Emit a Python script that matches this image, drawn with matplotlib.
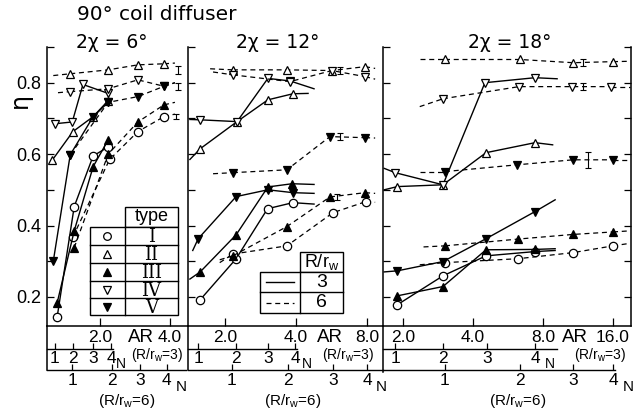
import matplotlib
matplotlib.use("Agg")
import matplotlib.pyplot as plt
from matplotlib.patches import Rectangle
from matplotlib.ticker import FixedLocator, FixedFormatter, NullLocator

plt.rcParams['font.family'] = ['Liberation Sans', 'DejaVu Sans']
plt.rcParams['mathtext.fontset'] = 'dejavusans'

W, H = 633, 411

types = ['I', 'II', 'III', 'IV', 'V']
mk = {'I': ('o', 'white'), 'II': ('^', 'white'), 'III': ('^', 'black'),
      'IV': ('v', 'white'), 'V': ('v', 'black')}

# ---- data: (AR, eta) ----
# 2chi = 6 deg
chi6_solid = {   # R/rw = 3
    'I':   ([1.31, 1.55, 1.87, 2.17], [0.145, 0.453, 0.595, 0.620]),
    'II':  ([1.25, 1.53, 1.87, 2.17], [0.584, 0.663, 0.705, 0.750]),
    'III': ([1.31, 1.55, 1.87, 2.17], [0.184, 0.385, 0.565, 0.640]),
    'IV':  ([1.28, 1.52, 1.69, 2.17], [0.685, 0.690, 0.795, 0.770]),
    'V':   ([1.26, 1.49, 1.87, 2.17], [0.300, 0.598, 0.705, 0.745]),
}
chi6_dashed = {  # R/rw = 6
    'I':   ([1.53, 2.20, 2.91, 3.77], [0.368, 0.585, 0.663, 0.705]),
    'II':  ([1.49, 2.17, 2.91, 3.77], [0.825, 0.836, 0.850, 0.853]),
    'III': ([1.55, 2.17, 2.91, 3.77], [0.338, 0.600, 0.690, 0.738]),
    'IV':  ([1.49, 2.17, 2.91, 3.77], [0.775, 0.783, 0.808, 0.790]),
    'V':   ([1.49, 2.17, 2.91, 3.77], [0.598, 0.745, 0.761, 0.790]),
}
# 2chi = 12 deg
chi12_solid = {
    'I':   ([1.57, 2.23, 3.03, 3.88], [0.192, 0.307, 0.447, 0.464]),
    'II':  ([1.57, 2.25, 3.04, 3.88], [0.615, 0.691, 0.752, 0.769]),
    'III': ([1.57, 2.23, 3.04, 3.85], [0.270, 0.374, 0.508, 0.517]),
    'IV':  ([1.57, 2.25, 3.04, 3.77], [0.696, 0.691, 0.812, 0.805]),
    'V':   ([1.54, 2.23, 3.04, 3.88], [0.363, 0.481, 0.500, 0.492]),
}
chi12_dashed = {
    'I':   ([2.16, 3.66, 5.74, 7.92], [0.320, 0.343, 0.436, 0.467]),
    'II':  ([2.16, 3.66, 5.68, 7.85], [0.836, 0.836, 0.834, 0.845]),
    'III': ([2.16, 3.66, 5.57, 7.85], [0.315, 0.397, 0.480, 0.492]),
    'IV':  ([2.16, 3.77, 5.68, 7.85], [0.822, 0.803, 0.834, 0.817]),
    'V':   ([2.16, 3.66, 5.57, 7.85], [0.548, 0.556, 0.649, 0.646]),
}
# 2chi = 18 deg
chi18_solid = {
    'I':   ([1.89, 2.97, 4.55, 7.39], [0.178, 0.259, 0.315, 0.327]),
    'II':  ([1.89, 2.97, 4.55, 7.39], [0.509, 0.514, 0.604, 0.632]),
    'III': ([1.89, 2.97, 4.55, 7.39], [0.203, 0.229, 0.332, 0.333]),
    'IV':  ([1.85, 2.97, 4.50, 7.39], [0.548, 0.514, 0.800, 0.814]),
    'V':   ([1.89, 2.97, 4.55, 7.39], [0.273, 0.299, 0.363, 0.439]),
}
chi18_dashed = {
    'I':   ([3.03, 6.25, 10.77, 16.0], [0.296, 0.307, 0.324, 0.343]),
    'II':  ([3.03, 6.37, 10.77, 16.0], [0.865, 0.865, 0.856, 0.859]),
    'III': ([3.03, 6.25, 10.77, 16.0], [0.343, 0.362, 0.375, 0.382]),
    'IV':  ([2.97, 6.31, 10.66, 15.68], [0.755, 0.789, 0.789, 0.789]),
    'V':   ([3.03, 6.19, 10.77, 16.0], [0.551, 0.570, 0.584, 0.584]),
}
# where the drawn curves run on past the measured points: (lead, tail) as (AR, eta)
chi6_dashed_ends = {
    'I':   (None, (4.20, 0.712)),
    'II':  ((1.26, 0.820), (4.20, 0.855)),
    'III': (None, (4.20, 0.745)),
    'IV':  ((1.32, 0.772), (4.20, 0.800)),
    'V':   (None, (4.20, 0.800)),
}
chi12_solid_ends = {
    'I':   (None, (4.77, 0.460)),
    'II':  ((1.42, 0.585), (4.50, 0.770)),
    'III': ((1.42, 0.250), (4.77, 0.515)),
    'IV':  ((1.42, 0.697), (4.77, 0.783)),
    'V':   ((1.46, 0.330), (4.77, 0.490)),
}
chi12_dashed_ends = {
    'I':   ((1.90, 0.296), (8.66, 0.465)),
    'II':  ((1.73, 0.839), (8.66, 0.840)),
    'III': ((1.90, 0.304), (8.66, 0.490)),
    'IV':  ((1.78, 0.830), (8.66, 0.810)),
    'V':   ((1.78, 0.545), (8.66, 0.645)),
}
chi18_solid_ends = {
    'I':   (None, (9.02, 0.330)),
    'II':  ((1.66, 0.500), (8.80, 0.626)),
    'III': (None, (9.02, 0.335)),
    'IV':  ((1.66, 0.560), (9.20, 0.811)),
    'V':   ((1.66, 0.270), (9.02, 0.472)),
}
chi18_dashed_ends = {
    'I':   ((2.36, 0.290), (18.9, 0.350)),
    'II':  ((2.36, 0.865), (18.9, 0.860)),
    'III': ((2.45, 0.340), (18.9, 0.385)),
    'IV':  ((2.36, 0.733), (18.9, 0.789)),
    'V':   ((2.36, 0.551), (18.9, 0.584)),
}
# scatter bars next to the last dashed points: AR, eta, half height
err6 = ([4.33, 4.33, 4.25], [0.835, 0.790, 0.705], [0.012, 0.010, 0.008])
err12 = ([6.14, 6.14, 5.96], [0.834, 0.649, 0.480], [0.010, 0.010, 0.008])
err18 = ([11.9, 11.9, 12.5], [0.856, 0.789, 0.584], [0.010, 0.010, 0.022])

titles = ['2χ = 6°', '2χ = 12°', '2χ = 18°']
ar_ticks = [[2.0, 4.0], [2.0, 4.0, 8.0], [2.0, 4.0, 8.0, 16.0]]
ar_labels = [['2.0', '4.0'], ['2.0', '4.0', '8.0'], ['2.0', '4.0', '8.0', '16.0']]
# AR positions of the N scales
n3_pos = [[1.28, 1.53, 1.87, 2.23], [1.54, 2.23, 3.04, 3.96], [1.85, 2.97, 4.59, 7.39]]
n6_pos = [[1.52, 2.25, 2.97, 3.88], [2.14, 3.70, 5.74, 8.0], [3.03, 6.37, 10.77, 16.0]]
n_labels = ['1', '2', '3', '4']

# ---- layout (pixels) ----
def rect(x0, y0, x1, y1):
    return [x0 / W, 1 - y1 / H, (x1 - x0) / W, (y1 - y0) / H]

panel_px = [(47, 188), (188, 383), (383, 631)]
ar_lims = [(1.184, 4.78), (1.394, 9.35), (1.64, 19.12)]
n3_end = [2.27, 4.03, 9.19]
n6_end = [4.70, 9.35, 16.3]
title_x = [112, 278, 510]
ar_txt = [(141, 157), (330, 348), (575, 600)]
n3_N = [121, 307, 550]
n6_N = [181, 381, 628]
r6_txt = [127, 293, 518]

fig = plt.figure(figsize=(W / 100, H / 100), dpi=100)

solid_sets = [chi6_solid, chi12_solid, chi18_solid]
dashed_sets = [chi6_dashed, chi12_dashed, chi18_dashed]
solid_ends = [{}, chi12_solid_ends, chi18_solid_ends]
dashed_ends = [chi6_dashed_ends, chi12_dashed_ends, chi18_dashed_ends]
errs = [err6, err12, err18]


def draw(ax, ar, eta, ends, t, dashed):
    m, fc = mk[t]
    style = dict(color='black', lw=0.9 if dashed else 1.0, clip_on=False)
    if dashed:
        style['dashes'] = (4, 3)
    lead, tail = ends.get(t, (None, None))
    if lead is not None:
        ax.plot([lead[0], ar[0]], [lead[1], eta[0]], **style)
    if tail is not None:
        ax.plot([ar[-1], tail[0]], [eta[-1], tail[1]], **style)
    ax.plot(ar, eta, marker=m, mfc=fc, mec='black', ms=6, mew=0.9, **style)


for i in range(3):
    x0, x1 = panel_px[i]
    ax = fig.add_axes(rect(x0, 47, x1, 326))
    ax.set_xscale('log', base=2)
    ax.set_xlim(*ar_lims[i])
    ax.set_ylim(0.1185, 0.9)
    ax.patch.set_visible(False)
    ax.spines['top'].set_visible(False)
    ax.spines['right'].set_visible(i == 2)
    for s in ax.spines.values():
        s.set_linewidth(1.1)

    for t in types:
        ar, eta = solid_sets[i][t]
        draw(ax, ar, eta, solid_ends[i], t, False)
        ar, eta = dashed_sets[i][t]
        draw(ax, ar, eta, dashed_ends[i], t, True)
    ex, ey, eh = errs[i]
    ax.errorbar(ex, ey, yerr=eh, fmt='none', ecolor='black', elinewidth=0.8,
                capsize=2, capthick=0.8)

    ax.xaxis.set_major_locator(FixedLocator(ar_ticks[i]))
    ax.xaxis.set_major_formatter(FixedFormatter(ar_labels[i]))
    ax.xaxis.set_minor_locator(NullLocator())
    ax.set_yticks([0.2, 0.4, 0.6, 0.8])
    ax.set_yticks([0.3, 0.5, 0.7, 0.9], minor=True)
    ax.tick_params(axis='x', direction='in', length=6, width=0.9, pad=3, labelsize=12.5)
    ax.tick_params(axis='y', which='both', direction='in', length=5, width=0.9,
                   labelsize=13, pad=4, labelleft=(i == 0), right=(i == 2))

    # N scale for R/rw = 3
    a3 = fig.add_axes(rect(x0, 347, x1, 349))
    # N scale for R/rw = 6
    a6 = fig.add_axes(rect(x0, 368, x1, 370))
    for a, pos, end, pad in ((a3, n3_pos[i], n3_end[i], 1.5), (a6, n6_pos[i], n6_end[i], 2)):
        a.set_xscale('log', base=2)
        a.set_xlim(*ar_lims[i])
        a.patch.set_visible(False)
        for s in ('top', 'left', 'right'):
            a.spines[s].set_visible(False)
        a.spines['bottom'].set_bounds(ar_lims[i][0], end)
        a.spines['bottom'].set_linewidth(1.0)
        a.set_yticks([])
        a.xaxis.set_major_locator(FixedLocator(pos))
        a.xaxis.set_major_formatter(FixedFormatter(n_labels))
        a.xaxis.set_minor_locator(NullLocator())
        a.tick_params(axis='x', direction='in', length=4, width=0.9, pad=pad, labelsize=12.5)

# overlay for texts, tables and frame pieces
ov = fig.add_axes([0, 0, 1, 1], zorder=10)
ov.set_xlim(0, W)
ov.set_ylim(H, 0)
ov.axis('off')

ov.text(77, 15, '90° coil diffuser', fontsize=14.5, family='DejaVu Sans',
        ha='left', va='center')
ov.text(20, 100, 'η', fontsize=17, family='DejaVu Sans', rotation=90,
        ha='center', va='center')
for i in range(3):
    ov.text(title_x[i], 42, titles[i], fontsize=13.5, family='DejaVu Sans',
            ha='center', va='center')
    ov.text(ar_txt[i][0], 337, 'AR', fontsize=13.5, ha='center', va='center')
    ov.text(ar_txt[i][1], 355, '(R/r$_\\mathregular{w}$=3)', fontsize=10,
            ha='center', va='center')
    ov.text(n3_N[i], 364, 'N', fontsize=10, ha='center', va='center')
    ov.text(n6_N[i], 387, 'N', fontsize=11, ha='center', va='center')
    ov.text(r6_txt[i], 401, '(R/r$_\\mathregular{w}$=6)', fontsize=11,
            ha='center', va='center')

# band frame
for xv, yb in ((47, 370), (188, 370), (383, 372)):
    ov.plot([xv, xv], [326, yb], color='black', lw=1.1)

# type table
ov.add_patch(Rectangle((125, 207), 53, 20, fc='white', ec='black', lw=1.0))
ov.text(151.5, 216, 'type', fontsize=13, ha='center', va='center')
rows = [227, 245, 263, 281, 298, 315]
ov.add_patch(Rectangle((90, 227), 88, 88, fc='white', ec='black', lw=1.0))
ov.plot([125, 125], [227, 315], color='black', lw=1.0)
for k, t in enumerate(types):
    yc = (rows[k] + rows[k + 1]) / 2
    if k > 0:
        ov.plot([90, 178], [rows[k], rows[k]], color='black', lw=1.0)
    m, fc = mk[t]
    ov.plot(107, yc, marker=m, mfc=fc, mec='black', ms=5.5, mew=0.9, ls='none')
    ov.text(151.5, yc + 1, t, fontsize=13, family='DejaVu Serif',
            ha='center', va='center')

# R/rw table
ov.add_patch(Rectangle((300, 252), 43, 20, fc='white', ec='black', lw=1.0))
ov.text(321.5, 262, 'R/r$_\\mathregular{w}$', fontsize=13, ha='center', va='center')
ov.add_patch(Rectangle((260, 272), 83, 41, fc='white', ec='black', lw=1.0))
ov.plot([300, 300], [272, 313], color='black', lw=1.0)
ov.plot([260, 343], [292, 292], color='black', lw=1.0)
ov.plot([266, 294], [282, 282], color='black', lw=1.0)
ov.plot([266, 294], [302.5, 302.5], color='black', lw=0.9, dashes=(4, 3))
ov.text(321.5, 282, '3', fontsize=14, ha='center', va='center')
ov.text(321.5, 302.5, '6', fontsize=14, ha='center', va='center')

fig.savefig('out.png', dpi=100)
